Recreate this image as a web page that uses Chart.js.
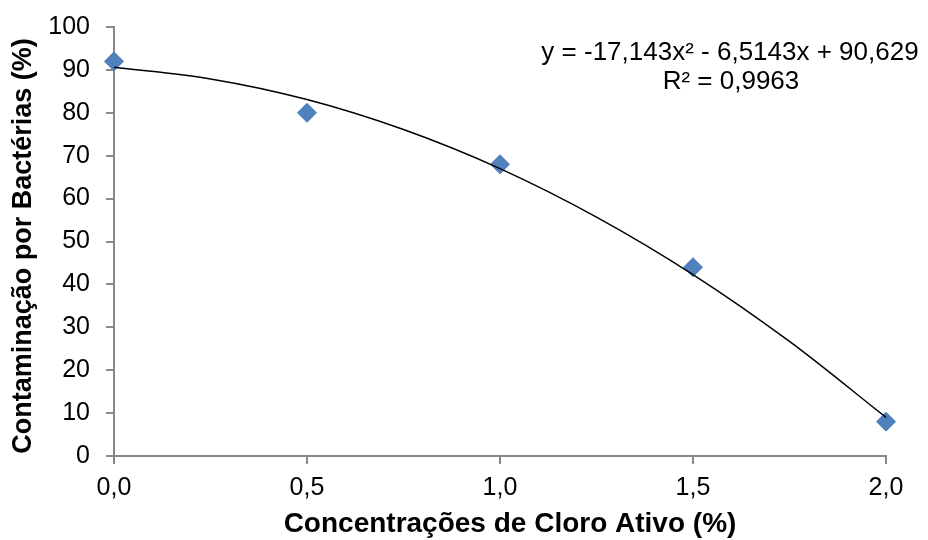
<!DOCTYPE html>
<html>
<head>
<meta charset="utf-8">
<script src="https://cdn.jsdelivr.net/npm/chart.js@4/dist/chart.umd.min.js"></script>
<style>
  body { margin: 0; background: #fff; }
  canvas { display: block; }
</style>
</head>
<body>
<canvas id="chart" width="928" height="540"></canvas>
<script>
// Data
const concentrations = [0.0, 0.5, 1.0, 1.5, 2.0];
const contamination = [92, 80, 68, 44, 8];

// Polynomial trendline, values
const trendX = [0, 0.25, 0.5, 0.75, 1.0, 1.25, 1.5, 1.75, 2.0];
const trendY = [90.6, 87.9, 83.1, 76.1, 67.0, 55.7, 42.3, 26.7, 9.0];

const equationLines = ["y = -17,143x² - 6,5143x + 90,629", "R² = 0,9963"];

const xTitle = "Concentrações de Cloro Ativo (%)";
const yTitle = "Contaminação por Bactérias (%)";

const FONT = "Arial, 'Liberation Sans', sans-serif";
const AXIS_GRAY = "#898989";

// Equation label and axis titles (placed off-centre like the original)
const labelsPlugin = {
  id: "labels",
  afterDatasetsDraw(chart) {
    const ctx = chart.ctx;
    ctx.save();
    ctx.fillStyle = "#000";
    ctx.textAlign = "center";
    ctx.textBaseline = "middle";

    ctx.font = `26px ${FONT}`;
    ctx.fillText(equationLines[0], 730, 53);
    ctx.fillText(equationLines[1], 731, 82);

    ctx.font = `bold 28px ${FONT}`;
    ctx.fillText(xTitle, 510, 524);

    ctx.translate(24, 246);
    ctx.rotate(-Math.PI / 2);
    ctx.font = `bold 27px ${FONT}`;
    ctx.fillText(yTitle, 0, 0);
    ctx.restore();
  }
};

const points = concentrations.map((x, i) => ({ x, y: contamination[i] }));
const trend = trendX.map((x, i) => ({ x, y: trendY[i] }));

new Chart(document.getElementById("chart"), {
  type: "scatter",
  data: {
    datasets: [
      {
        label: "Polinomial",
        data: trend,
        showLine: true,
        borderColor: "#000",
        borderWidth: 1.5,
        pointRadius: 0,
        cubicInterpolationMode: "monotone",
        fill: false,
        clip: false
      },
      {
        label: "Contaminação",
        data: points,
        pointStyle: "rectRot",
        pointRadius: 9.5,
        pointBackgroundColor: "#4F81BD",
        pointBorderColor: "#4A7EBB",
        pointBorderWidth: 1,
        clip: false
      }
    ]
  },
  options: {
    responsive: false,
    animation: false,
    layout: { padding: { left: 0, top: 27, right: 42, bottom: 0 } },
    plugins: {
      legend: { display: false },
      tooltip: { enabled: false }
    },
    scales: {
      x: {
        type: "linear",
        min: 0,
        max: 2,
        afterFit: s => {
          s.height = 84;
          s.paddingLeft = 0;
          s.paddingRight = 0;
        },
        ticks: {
          stepSize: 0.5,
          color: "#000",
          padding: 9,
          maxRotation: 0,
          font: { family: FONT, size: 25 },
          callback: v => v.toFixed(1).replace(".", ",")
        },
        grid: {
          drawOnChartArea: false,
          drawTicks: true,
          tickLength: 8,
          color: AXIS_GRAY,
          lineWidth: 2
        },
        border: { color: AXIS_GRAY, width: 2 }
      },
      y: {
        min: 0,
        max: 100,
        afterFit: s => {
          s.width = 114;
          s.paddingTop = 0;
          s.paddingBottom = 0;
        },
        ticks: {
          stepSize: 10,
          color: "#000",
          padding: 16,
          font: { family: FONT, size: 25 }
        },
        grid: {
          drawOnChartArea: false,
          drawTicks: true,
          tickLength: 8,
          color: AXIS_GRAY,
          lineWidth: 2
        },
        border: { color: AXIS_GRAY, width: 2 }
      }
    }
  },
  plugins: [labelsPlugin]
});
</script>
</body>
</html>
